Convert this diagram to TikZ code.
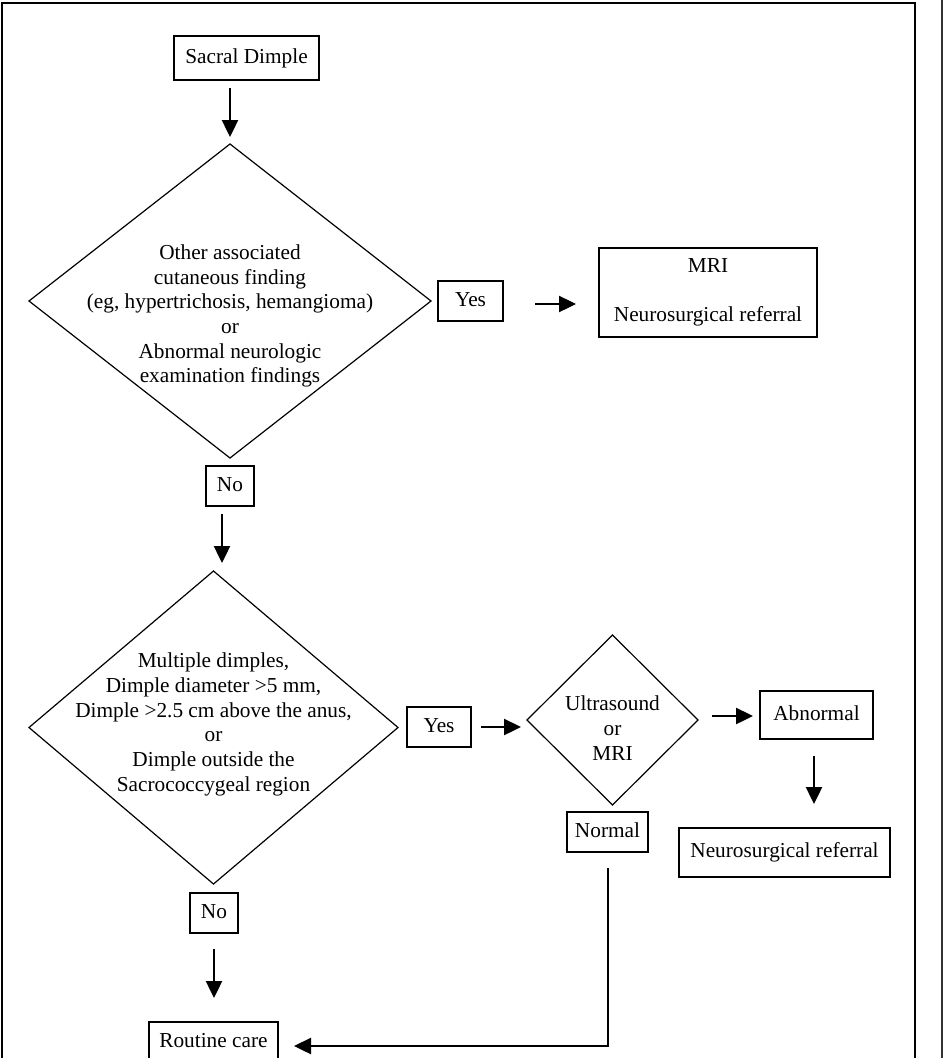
\documentclass[tikz,border=0pt]{standalone}
\usepackage{fontspec}
\setmainfont{Liberation Serif}
\usetikzlibrary{shapes.geometric,arrows.meta}
\newcommand{\chartfont}{\fontsize{21.3}{24.7}\selectfont}
\begin{document}
\begin{tikzpicture}[x=1pt,y=-1pt,
  plainbox/.style={draw, line width=1.2pt, inner sep=0pt, outer sep=0pt, align=center, font=\chartfont},
  box/.style={plainbox, text height=14.5pt, text depth=4.5pt},
  dia/.style={draw, diamond, line width=1.2pt, inner sep=0pt, outer sep=0pt},
  txt/.style={align=center, font=\chartfont, inner sep=0pt},
  arr/.style={line width=2.4pt, -{Triangle[length=17pt,width=16pt]}}]
\useasboundingbox (0,0) rectangle (944,1058);
\fill[white] (0,0) rectangle (944,1058);
% frame
\draw[line width=2.5pt] (2,1060) -- (2,3) -- (915,3) -- (915,1060);
\draw[line width=1.5pt, black!80] (942,0) -- (942,1060);

% nodes
\node[box, minimum width=145pt, minimum height=44pt] (sacral) at (246.5,58) {Sacral Dimple};
\node[dia, minimum width=402pt, minimum height=314pt] (d1) at (230,301) {};
\node[txt] (d1t) at (230,316) {Other associated\\cutaneous finding\\(eg, hypertrichosis, hemangioma)\\or\\Abnormal neurologic\\examination findings};
\node[box, minimum width=65pt, minimum height=40pt] (yes1) at (470.5,301) {Yes};
\node[plainbox, minimum width=218pt, minimum height=89pt] (mri) at (708,292.5) {MRI\\[24.7pt]Neurosurgical referral};
\node[box, minimum width=48pt, minimum height=40pt] (no1) at (230,486) {No};

\node[dia, minimum width=369pt, minimum height=313pt] (d2) at (213.5,727.5) {};
\node[txt] (d2t) at (213.5,724.5) {Multiple dimples,\\Dimple diameter >5 mm,\\Dimple >2.5 cm above the anus,\\or\\Dimple outside the\\Sacrococcygeal region};
\node[box, minimum width=64pt, minimum height=40pt] (yes2) at (439,727) {Yes};
\node[dia, minimum width=171pt, minimum height=170pt] (d3) at (612.5,720) {};
\node[txt] (d3t) at (612.5,728) {Ultrasound\\or\\MRI};
\node[box, minimum width=113pt, minimum height=48pt] (abn) at (816.5,715) {Abnormal};
\node[box, minimum width=211pt, minimum height=49pt] (nref) at (784.5,852.5) {Neurosurgical referral};
\node[box, minimum width=81pt, minimum height=40pt] (normal) at (607.5,832) {Normal};
\node[box, minimum width=48pt, minimum height=40pt] (no2) at (214,913) {No};
\node[box, minimum width=129pt, minimum height=40pt] (routine) at (213.5,1042) {Routine care};

% connector end points
\coordinate (a1s) at (230,88);   \coordinate (a1e) at (230,137);
\coordinate (a2s) at (535,304);  \coordinate (a2e) at (576,304);
\coordinate (a3s) at (222,514);  \coordinate (a3e) at (222,563);
\coordinate (a4s) at (481,727);  \coordinate (a4e) at (521,727);
\coordinate (a5s) at (712,716);  \coordinate (a5e) at (753,716);
\coordinate (a6s) at (814,756);  \coordinate (a6e) at (814,804);
\coordinate (a7s) at (214,949);  \coordinate (a7e) at (214,998);
\coordinate (a8s) at (608,868);  \coordinate (a8c) at (608,1046); \coordinate (a8e) at (294,1046);

\draw[arr] (a1s) -- (a1e);
\draw[arr] (a2s) -- (a2e);
\draw[arr] (a3s) -- (a3e);
\draw[arr] (a4s) -- (a4e);
\draw[arr] (a5s) -- (a5e);
\draw[arr] (a6s) -- (a6e);
\draw[arr] (a7s) -- (a7e);
\draw[arr] (a8s) -- (a8c) -- (a8e);
\end{tikzpicture}
\end{document}
